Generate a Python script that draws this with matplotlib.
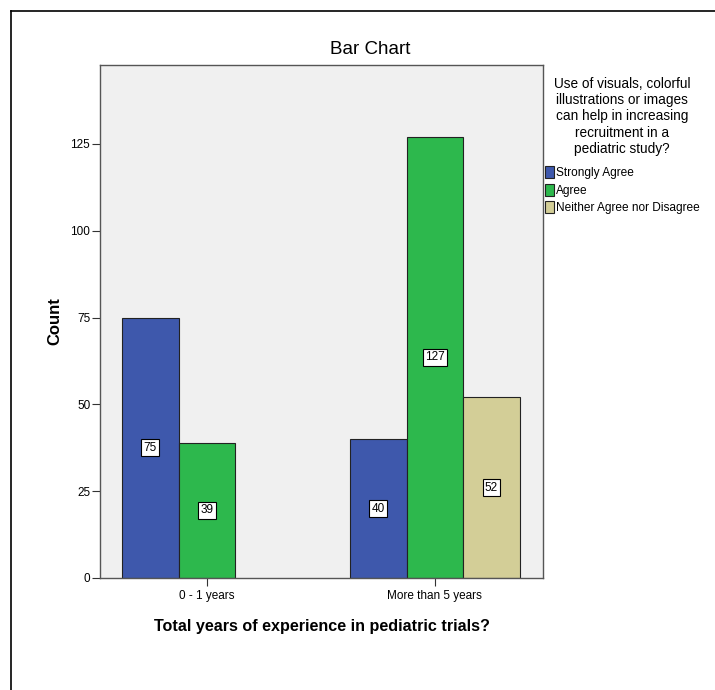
import matplotlib.pyplot as plt
import matplotlib.patches as mpatches
from matplotlib.lines import Line2D
import numpy as np

plt.rcParams['font.family'] = ['Liberation Sans', 'DejaVu Sans']

# Данные
categories = ['0 - 1 years', 'More than 5 years']
responses = ['Strongly Agree', 'Agree', 'Neither Agree nor Disagree']
strongly_agree = [75, 40]
agree = [39, 127]
neither = [None, 52]
colors = ['#3e58ac', '#2db84d', '#d3ce97']
legend_title = ('Use of visuals, colorful\nillustrations or images\n'
                'can help in increasing\nrecruitment in a\npediatric study?')

fig = plt.figure(figsize=(7.15, 6.9), dpi=100)
ax = fig.add_axes([100 / 715, 112 / 690, 443 / 715, 513 / 690])
ax.set_facecolor('#f0f0f0')

x = np.arange(len(categories))
width = 0.248
series = [strongly_agree, agree, neither]
for i, (vals, color) in enumerate(zip(series, colors)):
    for xi, v in zip(x, vals):
        if v is None:
            continue
        xpos = xi + (i - 1) * width
        ax.bar(xpos, v, width=width, color=color, edgecolor='#222222', linewidth=0.8)
        ax.text(xpos, v / 2, str(v), ha='center', va='center', fontsize=8.5,
                bbox=dict(boxstyle='square,pad=0.2', fc='white', ec='black', lw=0.8))

ax.set_xlim(-0.469, 1.474)
ax.set_ylim(0, 147.7)
ax.set_xticks(x)
ax.set_xticklabels(categories, fontsize=8.5)
ax.set_yticks([0, 25, 50, 75, 100, 125])
ax.tick_params(axis='y', labelsize=8.5, length=6, width=0.8, color='#333333', pad=1)
ax.tick_params(axis='x', length=6, width=0.8, color='#333333', pad=3)
for sp in ax.spines.values():
    sp.set_color('#555555')
    sp.set_linewidth(1.0)

ax.set_xlabel('Total years of experience in pediatric trials?', fontsize=11.6,
              fontweight='bold')
ax.xaxis.set_label_coords(0.5, -0.079)
ax.set_ylabel('Count', fontsize=12, fontweight='bold')
ax.yaxis.set_label_coords(-0.086, 0.5)
fig.text(370 / 715, 1 - 49 / 690, 'Bar Chart', fontsize=13.5, ha='center', va='center')

# Легенда: заголовок отдельно, под ним — элементы
fig.text(622 / 715, 1 - 77 / 690, legend_title, fontsize=9.8, ha='center', va='top',
         multialignment='center', linespacing=1.2)
handles = [mpatches.Patch(facecolor=c, edgecolor='#222222', linewidth=0.8, label=r)
           for c, r in zip(colors, responses)]
fig.legend(handles=handles, loc='upper left',
           bbox_to_anchor=(543 / 715, 1 - 164 / 690),
           fontsize=8.6, frameon=False,
           handlelength=0.7, handleheight=1.15, handletextpad=0.2,
           labelspacing=0.38, borderpad=0.2, borderaxespad=0)

# Рамка
fig.add_artist(Line2D([11 / 715, 11 / 715], [0, 1 - 11 / 690],
                      transform=fig.transFigure, color='black', lw=1.2))
fig.add_artist(Line2D([11 / 715, 1], [1 - 11 / 690, 1 - 11 / 690],
                      transform=fig.transFigure, color='black', lw=1.2))

plt.savefig('out.png', dpi=100)
